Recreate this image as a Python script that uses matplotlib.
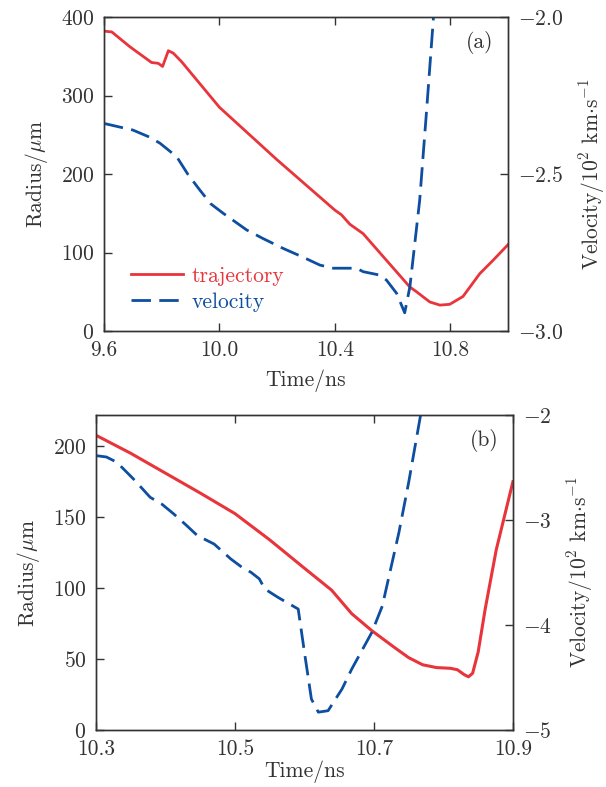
import numpy as np
import matplotlib
matplotlib.use('Agg')
import matplotlib.pyplot as plt
from matplotlib.lines import Line2D

plt.rcParams['font.family'] = 'cmr10'
plt.rcParams['mathtext.fontset'] = 'cm'
plt.rcParams['axes.formatter.use_mathtext'] = True
plt.rcParams['font.size'] = 15.5

RED = '#e8343a'
BLUE = '#0d4ea0'
GREY = '#333333'

# panel (a)
ta_traj = [9.6, 9.627, 9.69, 9.765, 9.788, 9.803, 9.823, 9.84, 9.869, 10.0, 10.2, 10.4,
           10.423, 10.452, 10.498, 10.567, 10.66, 10.683, 10.729, 10.764, 10.798, 10.844,
           10.902, 10.948, 11.0]
ra_traj = [382, 381, 362, 342, 341, 337, 357, 354, 343, 285, 218, 154,
           148, 136, 124, 95, 56, 50, 37, 33, 34, 44, 73, 90, 110]
ta_vel = [9.6, 9.7, 9.759, 9.794, 9.852, 9.89, 9.932, 9.97, 10.013, 10.094, 10.15, 10.221,
          10.29, 10.348, 10.394, 10.452, 10.475, 10.498, 10.556, 10.579, 10.614, 10.642,
          10.66, 10.694, 10.718, 10.741, 10.75]
va_vel = [-2.339, -2.36, -2.383, -2.402, -2.445, -2.50, -2.551, -2.595, -2.625, -2.678,
          -2.705, -2.737, -2.765, -2.790, -2.800, -2.800, -2.800, -2.811, -2.822, -2.838,
          -2.880, -2.942, -2.859, -2.583, -2.296, -2.01, -1.9]

# panel (b)
tb_traj = [10.3, 10.35, 10.4, 10.45, 10.5, 10.55, 10.6, 10.639, 10.668, 10.697, 10.73, 10.75,
           10.77, 10.79, 10.81, 10.82, 10.83, 10.836, 10.842, 10.85, 10.86, 10.876, 10.89, 10.9]
rb_traj = [207.7, 195, 181, 167, 152.5, 134, 114, 98.6, 82, 70, 58, 51,
           46, 44, 43.5, 42.5, 39, 37.5, 40, 55, 85, 127, 155, 175]
tb_vel = [10.3, 10.315, 10.33, 10.354, 10.378, 10.395, 10.412, 10.43, 10.446, 10.47, 10.494,
          10.51, 10.523, 10.535, 10.543, 10.562, 10.591, 10.6, 10.61, 10.62, 10.634, 10.654,
          10.668, 10.697, 10.712, 10.736, 10.75, 10.767, 10.775]
vb_vel = [-2.387, -2.40, -2.45, -2.61, -2.784, -2.85, -2.943, -3.05, -3.149, -3.229, -3.371,
          -3.45, -3.498, -3.56, -3.657, -3.737, -3.848, -4.26, -4.705, -4.83, -4.816, -4.61,
          -4.42, -4.07, -3.82, -3.117, -2.641, -2.006, -1.8]

fig = plt.figure(figsize=(6.06, 7.87), dpi=100)
ax1 = fig.add_axes([0.1716, 0.5794, 0.6667, 0.399])
ax2 = fig.add_axes([0.1584, 0.0724, 0.688, 0.4003])

dash = (0, (7, 3))


def style(ax, axr):
    for a in (ax, axr):
        for s in a.spines.values():
            s.set_color(GREY)
            s.set_linewidth(1.0)
        a.tick_params(direction='in', length=6, width=1.0, color=GREY, labelcolor=GREY, pad=7)
    ax.tick_params(top=True)


# (a)
ax1r = ax1.twinx()
ax1.plot(ta_traj, ra_traj, color=RED, lw=2)
ax1r.plot(ta_vel, va_vel, color=BLUE, lw=2, linestyle=dash)
ax1.set_xlim(9.6, 11.0)
ax1.set_ylim(0, 400)
ax1r.set_ylim(-3.0, -2.0)
ax1.set_xticks([9.6, 10.0, 10.4, 10.8])
ax1.set_xticklabels(['9.6', '10.0', '10.4', '10.8'])
ax1.set_yticks([0, 100, 200, 300, 400])
ax1r.set_yticks([-3.0, -2.5, -2.0])
ax1r.set_yticklabels(['$-$3.0', '$-$2.5', '$-$2.0'])
ax1.set_xlabel('Time/ns', color=GREY, labelpad=7)
ax1.set_ylabel(r'Radius/$\mu$m', color=GREY, labelpad=8)
ax1r.set_ylabel(r'Velocity/10$^2$ km$\cdot$s$^{-1}$', color=GREY, labelpad=10)
ax1.text(0.965, 0.955, '(a)', transform=ax1.transAxes, ha='right', va='top', color=GREY)
style(ax1, ax1r)
handles = [Line2D([], [], color=RED, lw=2), Line2D([], [], color=BLUE, lw=2, linestyle=dash)]
leg = ax1.legend(handles, ['trajectory', 'velocity'], loc='lower left',
                 bbox_to_anchor=(0.02, 0.0), frameon=False, handlelength=2.4,
                 handletextpad=0.4, labelspacing=0.3)
for txt, c in zip(leg.get_texts(), [RED, BLUE]):
    txt.set_color(c)

# (b)
ax2r = ax2.twinx()
ax2.plot(tb_traj, rb_traj, color=RED, lw=2.2)
ax2r.plot(tb_vel, vb_vel, color=BLUE, lw=2, linestyle=dash)
ax2.set_xlim(10.3, 10.9)
ax2.set_ylim(0, 222)
ax2r.set_ylim(-5, -2)
ax2.set_xticks([10.3, 10.5, 10.7, 10.9])
ax2.set_xticklabels(['10.3', '10.5', '10.7', '10.9'])
ax2.set_yticks([0, 50, 100, 150, 200])
ax2r.set_yticks([-5, -4, -3, -2])
ax2r.set_yticklabels(['$-$5', '$-$4', '$-$3', '$-$2'])
ax2.set_xlabel('Time/ns', color=GREY, labelpad=1)
ax2.set_ylabel(r'Radius/$\mu$m', color=GREY, labelpad=8)
ax2r.set_ylabel(r'Velocity/10$^2$ km$\cdot$s$^{-1}$', color=GREY, labelpad=10)
ax2.text(0.965, 0.955, '(b)', transform=ax2.transAxes, ha='right', va='top', color=GREY)
style(ax2, ax2r)

fig.savefig('out.png', dpi=100)
